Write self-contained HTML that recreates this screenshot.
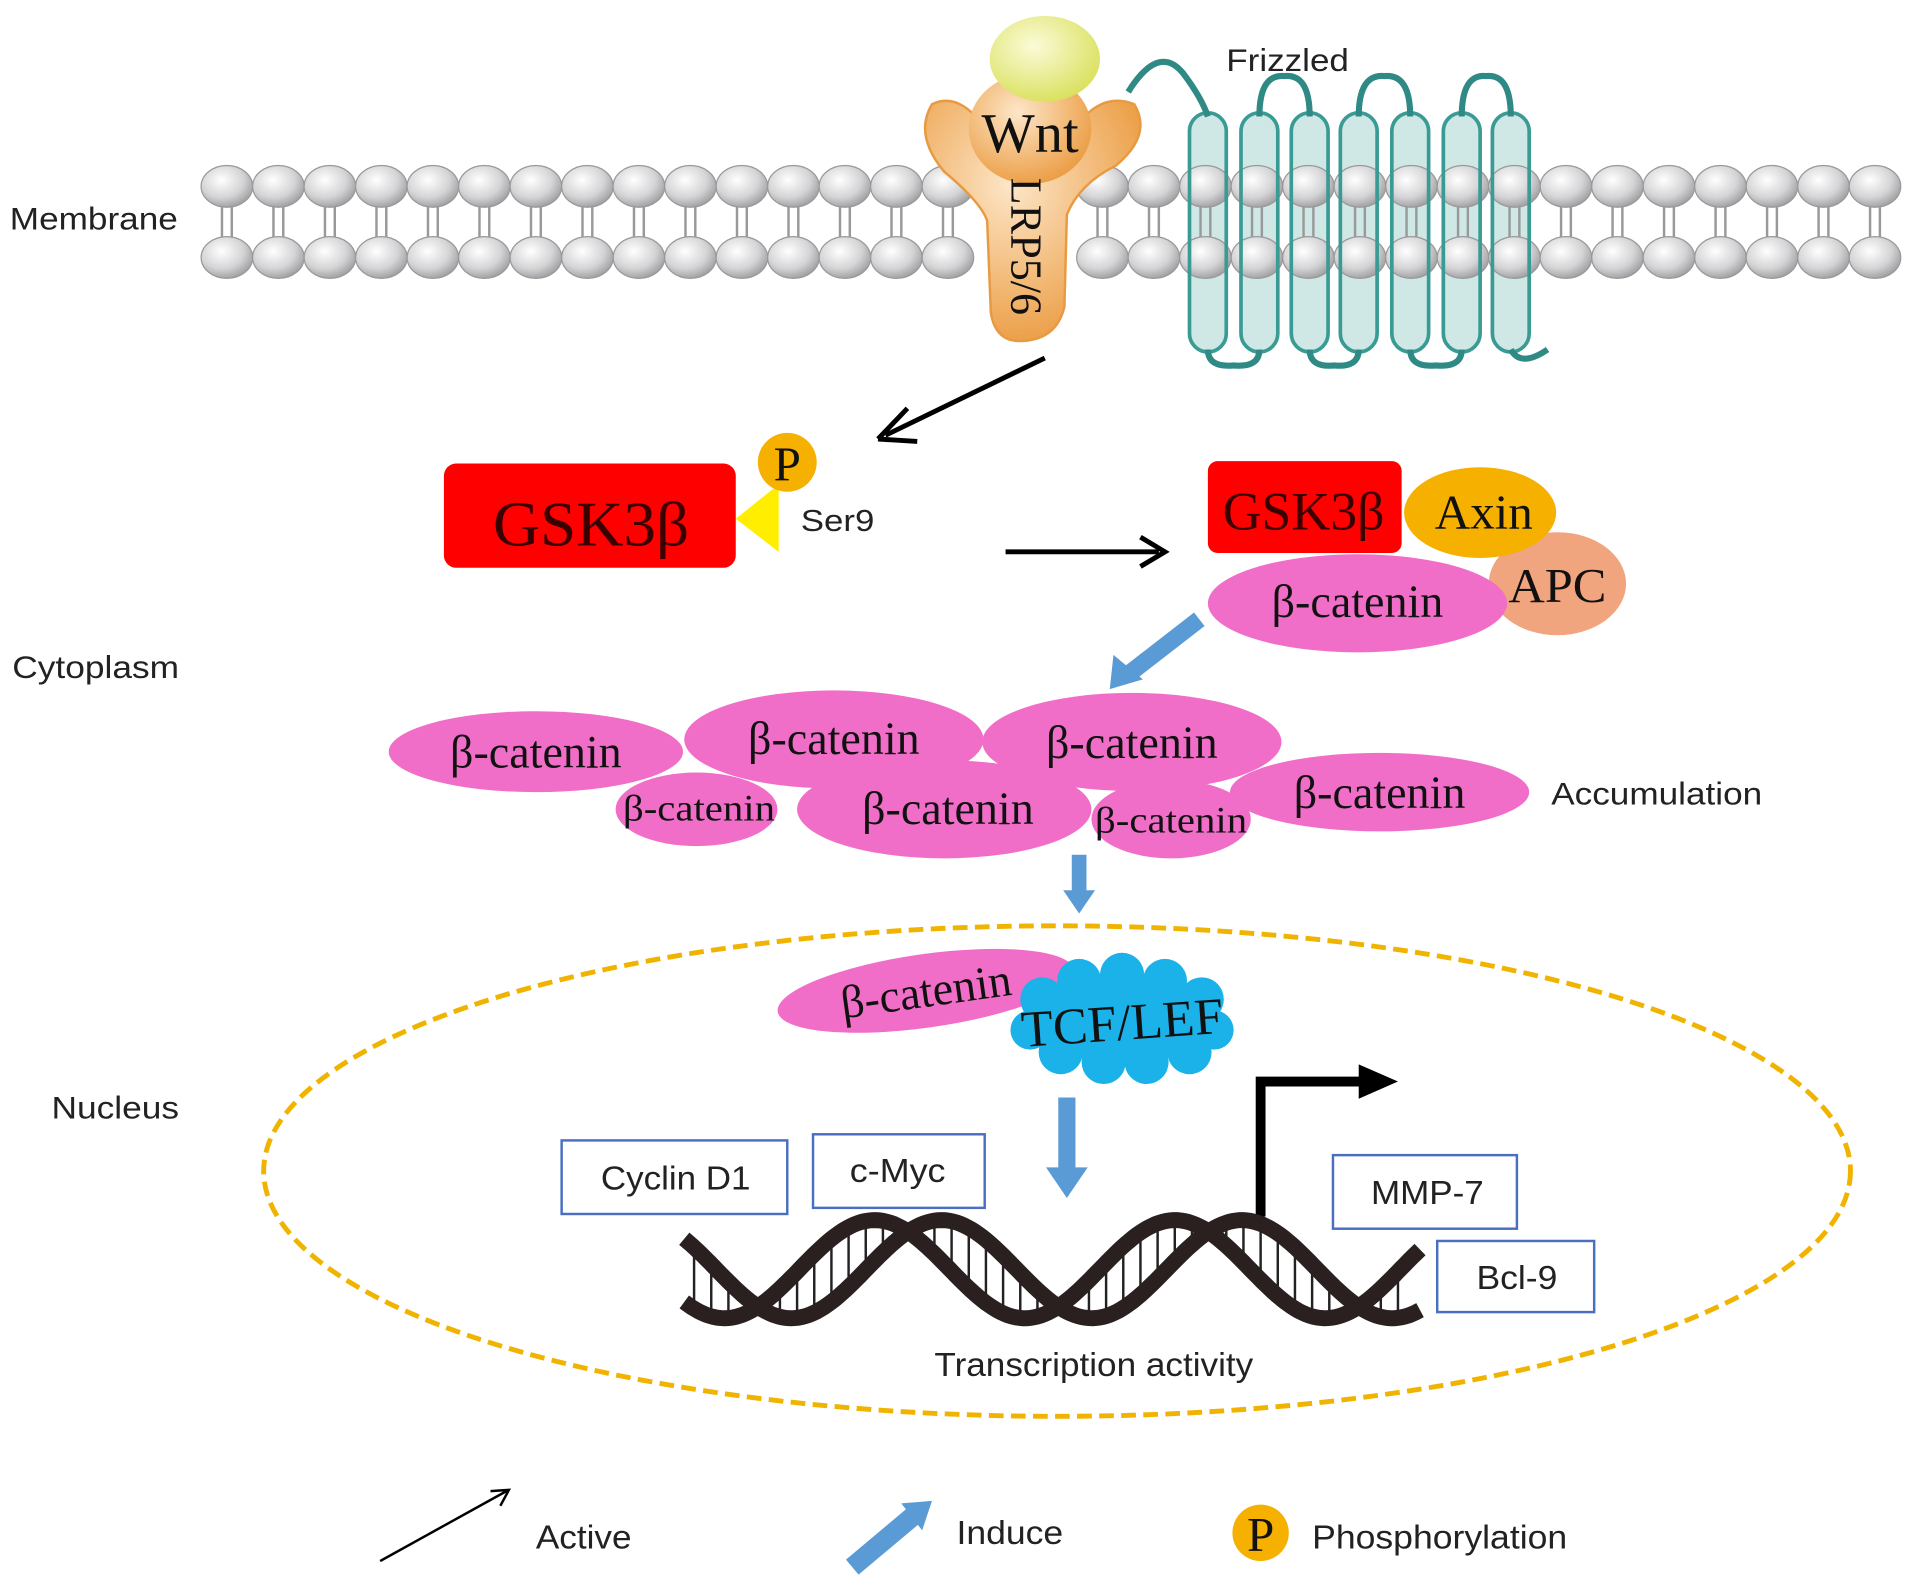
<!DOCTYPE html>
<html><head><meta charset="utf-8"><style>
html,body{margin:0;padding:0;background:#fff;}
svg{display:block;}
text{font-family:"Liberation Sans",sans-serif;}
text.serif{font-family:"Liberation Serif",serif;}
</style></head><body>
<svg id="s" width="1913" height="1588" viewBox="0 0 1560 1295" preserveAspectRatio="none" xmlns="http://www.w3.org/2000/svg">
<defs>
<radialGradient id="ball" cx="0.4" cy="0.35" r="0.7"><stop offset="0" stop-color="#ffffff"/><stop offset="0.6" stop-color="#d4d4d6"/><stop offset="1" stop-color="#9a9a9e"/></radialGradient>
<radialGradient id="org" cx="0.4" cy="0.35" r="0.8"><stop offset="0" stop-color="#fde6c8"/><stop offset="1" stop-color="#e8902c"/></radialGradient>
<radialGradient id="yl" cx="0.4" cy="0.35" r="0.7"><stop offset="0" stop-color="#fbfbd8"/><stop offset="1" stop-color="#d9e05a"/></radialGradient>
</defs>
<g id="fzb"></g>
<g id="mem"></g>
<text x="8" y="187" font-size="26" fill="#222" textLength="137" lengthAdjust="spacingAndGlyphs">Membrane</text>
<text x="10" y="553" font-size="26" fill="#222" textLength="136" lengthAdjust="spacingAndGlyphs">Cytoplasm</text>
<text x="42" y="912" font-size="26" fill="#222" textLength="104" lengthAdjust="spacingAndGlyphs">Nucleus</text>

<!-- Frizzled -->
<g id="fz" fill="none" stroke="#2f8a86" stroke-width="5"></g>
<text x="1000" y="58" font-size="26" fill="#222" textLength="100" lengthAdjust="spacingAndGlyphs">Frizzled</text>

<!-- Wnt/LRP -->
<path d="M760,85 Q745,110 770,140 Q800,165 805,180 L808,255 Q812,280 835,278 Q862,276 868,250 L870,175 Q880,150 910,135 Q940,110 925,85 Q900,75 880,100 L800,100 Q780,75 760,85 Z" fill="url(#org)" stroke="#e89a40" stroke-width="2"/>
<ellipse cx="840" cy="105" rx="50" ry="45" fill="url(#org)"/>
<ellipse cx="852" cy="48" rx="45" ry="35" fill="url(#yl)"/>
<text x="840" y="124" font-size="46" class="serif" text-anchor="middle" fill="#111">Wnt</text>
<text x="0" y="0" font-size="36" class="serif" fill="#111" transform="translate(825,145) rotate(90)">LRP5/6</text>

<!-- arrows -->
<line x1="852" y1="292" x2="722" y2="355" stroke="#000" stroke-width="4"/>
<path d="M716,358 L740,333 M716,358 L748,360" stroke="#000" stroke-width="4" fill="none"/>
<line x1="820" y1="450" x2="945" y2="450" stroke="#000" stroke-width="4"/>
<path d="M930,438 L950,450 L930,462" stroke="#000" stroke-width="4" fill="none"/>

<!-- GSK3b left -->
<rect x="362" y="378" width="238" height="85" rx="10" fill="#ff0000"/>
<text x="482" y="445" font-size="52" class="serif" text-anchor="middle" fill="#3a0000" textLength="160" lengthAdjust="spacingAndGlyphs">GSK3β</text>
<polygon points="600,423 635,395 635,450" fill="#ffee00"/>
<circle cx="642" cy="377" r="24" fill="#f5b000"/>
<text x="642" y="392" font-size="40" class="serif" text-anchor="middle" fill="#111">P</text>
<text x="653" y="433" font-size="25" fill="#222" textLength="60" lengthAdjust="spacingAndGlyphs">Ser9</text>

<!-- complex -->
<rect x="985" y="376" width="158" height="75" rx="8" fill="#ff0000"/>
<text x="1063" y="432" font-size="44" class="serif" text-anchor="middle" fill="#3a0000" textLength="132" lengthAdjust="spacingAndGlyphs">GSK3β</text>
<ellipse cx="1270" cy="476" rx="56" ry="42" fill="#f0a57e"/>
<ellipse cx="1207" cy="418" rx="62" ry="37" fill="#f6b000"/>
<text x="1210" y="431" font-size="40" class="serif" text-anchor="middle" fill="#111" textLength="80" lengthAdjust="spacingAndGlyphs">Axin</text>
<text x="1270" y="491" font-size="40" class="serif" text-anchor="middle" fill="#111" textLength="80" lengthAdjust="spacingAndGlyphs">APC</text>
<ellipse cx="1107" cy="492" rx="122" ry="40" fill="#f06ec8"/>
<text x="1107" y="503" font-size="38" class="serif" text-anchor="middle" fill="#111" textLength="140" lengthAdjust="spacingAndGlyphs">β-catenin</text>

<!-- blue arrow diag -->
<line x1="978" y1="505" x2="920" y2="550" stroke="#5b9bd5" stroke-width="14"/>
<polygon points="905,562 908,534 932,554" fill="#5b9bd5"/>

<!-- accumulation -->
<g fill="#f06ec8">
<ellipse cx="437" cy="613" rx="120" ry="33"/>
<ellipse cx="680" cy="603" rx="122" ry="40"/>
<ellipse cx="923" cy="605" rx="122" ry="40"/>
<ellipse cx="1125" cy="646" rx="122" ry="32"/>
<ellipse cx="770" cy="660" rx="120" ry="40"/>
<ellipse cx="568" cy="660" rx="66" ry="30"/>
<ellipse cx="955" cy="668" rx="65" ry="32"/>
</g>
<g fill="#111" text-anchor="middle">
<text class="serif" x="437" y="626" font-size="38" textLength="140" lengthAdjust="spacingAndGlyphs">β-catenin</text>
<text class="serif" x="680" y="615" font-size="38" textLength="140" lengthAdjust="spacingAndGlyphs">β-catenin</text>
<text class="serif" x="923" y="618" font-size="38" textLength="140" lengthAdjust="spacingAndGlyphs">β-catenin</text>
<text class="serif" x="1125" y="659" font-size="38" textLength="140" lengthAdjust="spacingAndGlyphs">β-catenin</text>
<text class="serif" x="773" y="672" font-size="38" textLength="140" lengthAdjust="spacingAndGlyphs">β-catenin</text>
<text class="serif" x="570" y="669" font-size="30" textLength="124" lengthAdjust="spacingAndGlyphs">β-catenin</text>
<text class="serif" x="955" y="679" font-size="30" textLength="124" lengthAdjust="spacingAndGlyphs">β-catenin</text>
</g>
<text x="1265" y="656" font-size="26" fill="#222" textLength="172" lengthAdjust="spacingAndGlyphs">Accumulation</text>

<line x1="880" y1="697" x2="880" y2="728" stroke="#5b9bd5" stroke-width="12"/>
<polygon points="867,726 893,726 880,745" fill="#5b9bd5"/>

<!-- nucleus -->
<ellipse cx="862" cy="955" rx="647" ry="200" fill="none" stroke="#f0b400" stroke-width="4" stroke-dasharray="12 6"/>

<ellipse cx="755" cy="808" rx="122" ry="30" fill="#f06ec8" transform="rotate(-8 755 808)"/>
<text x="755" y="821" font-size="38" class="serif" text-anchor="middle" fill="#111" transform="rotate(-8 755 808)" textLength="140" lengthAdjust="spacingAndGlyphs">β-catenin</text>
<g fill="#1ab2e8">
<ellipse cx="915" cy="832" rx="80" ry="34"/>
<circle cx="850" cy="815" r="18"/><circle cx="880" cy="800" r="18"/><circle cx="915" cy="795" r="18"/><circle cx="950" cy="800" r="18"/><circle cx="980" cy="815" r="18"/>
<circle cx="990" cy="840" r="16"/><circle cx="970" cy="858" r="18"/><circle cx="935" cy="866" r="18"/><circle cx="900" cy="866" r="18"/><circle cx="865" cy="858" r="18"/><circle cx="840" cy="840" r="16"/>
</g>
<text x="915" y="848" font-size="42" class="serif" text-anchor="middle" fill="#111" textLength="165" lengthAdjust="spacingAndGlyphs" transform="rotate(-4 915 832)">TCF/LEF</text>

<line x1="870" y1="895" x2="870" y2="955" stroke="#5b9bd5" stroke-width="14"/>
<polygon points="853,952 887,952 870,977" fill="#5b9bd5"/>

<path d="M1028,992 L1028,882 L1112,882" stroke="#000" stroke-width="8" fill="none"/>
<polygon points="1108,868 1140,882 1108,896" fill="#000"/>

<g id="dna"></g>

<g fill="#fff" stroke="#4a6fc0" stroke-width="2">
<rect x="458" y="930" width="184" height="60"/>
<rect x="663" y="925" width="140" height="60"/>
<rect x="1087" y="942" width="150" height="60"/>
<rect x="1172" y="1012" width="128" height="58"/>
</g>
<g font-size="27" fill="#222" text-anchor="middle">
<text x="551" y="970" textLength="122" lengthAdjust="spacingAndGlyphs">Cyclin D1</text>
<text x="732" y="964" textLength="78" lengthAdjust="spacingAndGlyphs">c-Myc</text>
<text x="1164" y="982" textLength="92" lengthAdjust="spacingAndGlyphs">MMP-7</text>
<text x="1237" y="1051" textLength="66" lengthAdjust="spacingAndGlyphs">Bcl-9</text>
<text x="892" y="1122" textLength="260" lengthAdjust="spacingAndGlyphs">Transcription activity</text>
</g>

<!-- legend -->
<line x1="310" y1="1273" x2="413" y2="1216" stroke="#000" stroke-width="2"/>
<path d="M400,1216 L415,1215 L408,1228" stroke="#000" stroke-width="2" fill="none"/>
<text x="437" y="1263" font-size="27" fill="#222" textLength="78" lengthAdjust="spacingAndGlyphs">Active</text>
<line x1="695" y1="1278" x2="745" y2="1236" stroke="#5b9bd5" stroke-width="16"/>
<polygon points="760,1224 735,1226 752,1248" fill="#5b9bd5"/>
<text x="780" y="1259" font-size="27" fill="#222" textLength="87" lengthAdjust="spacingAndGlyphs">Induce</text>
<circle cx="1028" cy="1250" r="23" fill="#f5b000"/>
<text x="1028" y="1265" font-size="40" class="serif" text-anchor="middle" fill="#111">P</text>
<text x="1070" y="1263" font-size="27" fill="#222" textLength="208" lengthAdjust="spacingAndGlyphs">Phosphorylation</text>
</svg>
<script>
(function(){
var NS="http://www.w3.org/2000/svg";
function el(t,a,p){var e=document.createElementNS(NS,t);for(var k in a)e.setAttribute(k,a[k]);p.appendChild(e);return e;}
var mem=document.getElementById('mem');
for(var x=185;x<=1530;x+=42){
 el('line',{x1:x-4,y1:165,x2:x-4,y2:195,stroke:'#999','stroke-width':2},mem);
 el('line',{x1:x+4,y1:165,x2:x+4,y2:195,stroke:'#999','stroke-width':2},mem);
}
for(var x=185;x<=1530;x+=42){
 if(x>790&&x<880) continue;
 el('ellipse',{cx:x,cy:152,rx:21,ry:17,fill:'url(#ball)',stroke:'#999','stroke-width':1},mem);
 el('ellipse',{cx:x,cy:210,rx:21,ry:17,fill:'url(#ball)',stroke:'#999','stroke-width':1},mem);
}
var fzb=document.getElementById('fzb');
var fz=document.getElementById('fz');
var cx=[985,1027,1068,1108,1150,1192,1232];
cx.forEach(function(c){el('rect',{x:c-15,y:92,width:30,height:195,rx:15,fill:'#cfe8e6'},fzb);
 el('rect',{x:c-15,y:92,width:30,height:195,rx:15,fill:'none',stroke:'#3a9a94','stroke-width':3},fz);});
el('path',{d:'M920,75 Q945,35 965,60 Q980,80 985,95'},fz);
[[1027,1068],[1108,1150],[1192,1232]].forEach(function(p){el('path',{d:'M'+p[0]+',95 Q'+p[0]+',60 '+(p[0]+p[1])/2+',62 Q'+p[1]+',60 '+p[1]+',95'},fz);});
[[985,1027],[1068,1108],[1150,1192]].forEach(function(p){el('path',{d:'M'+p[0]+',285 Q'+p[0]+',300 '+(p[0]+p[1])/2+',298 Q'+p[1]+',300 '+p[1]+',285'},fz);});
el('path',{d:'M1232,285 Q1240,300 1262,285'},fz);
var dna=document.getElementById('dna');
var d=0.7,a=40,c=1035,P=245;
function yA(x){return c+a*Math.cos(2*Math.PI*(x-618)/P-d);}
function yB(x){return c+a*Math.cos(2*Math.PI*(x-618)/P+d);}
for(var x=566;x<=1152;x+=14){el('line',{x1:x,y1:yA(x),x2:x,y2:yB(x),stroke:'#222','stroke-width':2},dna);}
var pa='',pb='';
for(var x=558;x<=1158;x+=3){pa+=(x==558?'M':'L')+x+','+yA(x).toFixed(1);pb+=(x==558?'M':'L')+x+','+yB(x).toFixed(1);}
el('path',{d:pa,stroke:'#2a2020','stroke-width':13,fill:'none'},dna);
el('path',{d:pb,stroke:'#2a2020','stroke-width':13,fill:'none'},dna);
})();
</script>
</body></html>
